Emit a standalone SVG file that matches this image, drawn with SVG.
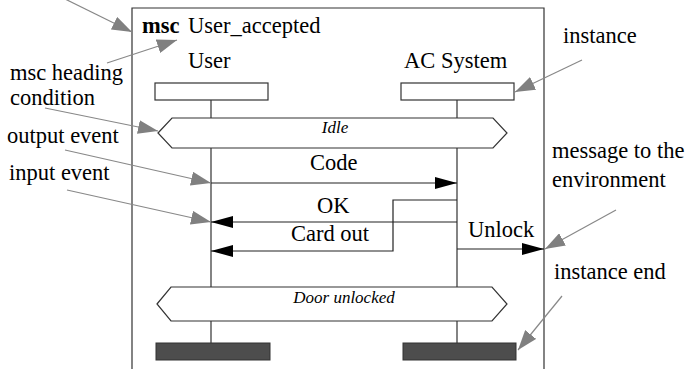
<svg xmlns="http://www.w3.org/2000/svg" width="696" height="369" viewBox="0 0 696 369">
<style>
text{font-family:"Liberation Serif","Times New Roman",serif;fill:#000}
.lbl{font-size:22.5px}
.cond{font-size:17px;font-style:italic;text-anchor:middle}
.ln{stroke:#333;stroke-width:1.2;fill:none}
.msg{stroke:#222;stroke-width:1.2;fill:none}
.ann{stroke:#888;stroke-width:1.2;fill:none;marker-end:url(#ga)}
.head{fill:#fff;stroke:#333;stroke-width:1.2}
.end{fill:#4d4d4d;stroke:#333;stroke-width:1}
</style>
<defs>
<marker id="ga" markerUnits="userSpaceOnUse" markerWidth="20" markerHeight="14" refX="20" refY="7" orient="auto"><path d="M0,0 L20,7 L0,14 z" fill="#808080"/></marker>
<marker id="ba" markerUnits="userSpaceOnUse" markerWidth="22" markerHeight="12" refX="22" refY="6" orient="auto"><path d="M0,0 L22,6 L0,12 z" fill="#000"/></marker>
</defs>
<g id="frame">
<path class="ln" d="M132,369 V8 H544 V369"/>
<text x="142" y="33" class="lbl" font-weight="bold">msc</text>
<text x="188" y="33" class="lbl">User_accepted</text>
</g>
<g id="inst-user">
<text x="188" y="68" class="lbl">User</text>
<rect class="head" x="155" y="83" width="113" height="17"/>
</g>
<g id="inst-ac">
<text x="404" y="68" class="lbl">AC System</text>
<rect class="head" x="401" y="83" width="113" height="17"/>
</g>
<g id="lifelines">
<path class="ln" d="M211,100 V118 M211,148 V287 M211,321 V343 M457,100 V118 M457,148 V287 M457,321 V343"/>
</g>
<g id="cond-idle">
<polygon class="head" points="158,133 172,118 493,118 507,133 493,148 172,148"/>
<text x="335" y="133" class="cond">Idle</text>
</g>
<g id="cond-door">
<polygon class="head" points="157,304 171,287 492,287 507,304 492,321 171,321"/>
<text x="344" y="303" class="cond">Door unlocked</text>
</g>
<g id="end-user"><rect class="end" x="156" y="343" width="114" height="17"/></g>
<g id="end-ac"><rect class="end" x="403" y="343" width="113" height="17"/></g>
<g id="connectors">
<path class="msg" d="M211,183 H457" marker-end="url(#ba)"/>
<path class="msg" d="M457,222 H211" marker-end="url(#ba)"/>
<path class="msg" d="M457,200 H393 V251 H211" marker-end="url(#ba)"/>
<path class="msg" d="M457,249 H544" marker-end="url(#ba)"/>
<path class="ann" d="M63,-2 L132,32"/>
<path class="ann" d="M107,63 L177,40"/>
<path class="ann" d="M45,108 L158,131"/>
<path class="ann" d="M65,150 L211,183"/>
<path class="ann" d="M67,190 L211,222"/>
<path class="ann" d="M582,60 L515,92"/>
<path class="ann" d="M616,210 L545,249"/>
<path class="ann" d="M562,296 L518,350"/>
</g>
<g id="msg-labels">
<text x="310" y="170" class="lbl">Code</text>
<text x="317" y="213" class="lbl">OK</text>
<text x="291" y="241" class="lbl">Card out</text>
<text x="468" y="237" class="lbl">Unlock</text>
</g>
<g id="annotations">
<text x="10" y="80" class="lbl">msc heading</text>
<text x="10" y="105" class="lbl">condition</text>
<text x="7" y="143" class="lbl">output event</text>
<text x="9" y="180" class="lbl">input event</text>
<text x="563" y="43" class="lbl">instance</text>
<text x="552" y="158" class="lbl">message to the</text>
<text x="552" y="187" class="lbl">environment</text>
<text x="554" y="279" class="lbl">instance end</text>
</g>
</svg>
